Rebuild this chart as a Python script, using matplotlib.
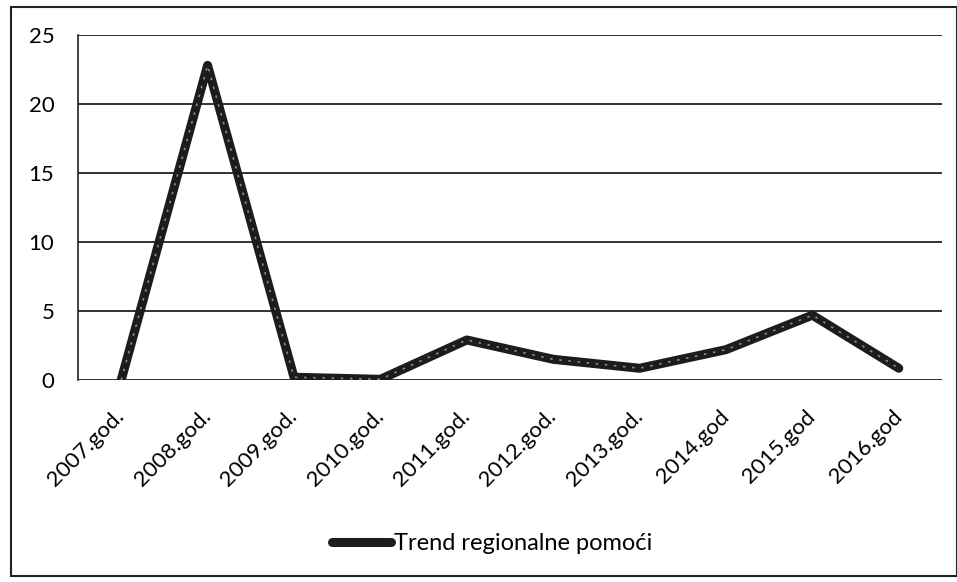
import matplotlib
matplotlib.use('Agg')
from matplotlib import pyplot as plt
from matplotlib.patches import Rectangle

# Data
years = ['2007.god.', '2008.god.', '2009.god.', '2010.god.', '2011.god.',
         '2012.god.', '2013.god.', '2014.god', '2015.god', '2016.god']
values = [0.0, 22.8, 0.2, 0.05, 2.9, 1.5, 0.85, 2.2, 4.7, 0.85]
y_ticks = [0, 5, 10, 15, 20, 25]
series_name = 'Trend regionalne pomoći'

plt.rcParams['font.family'] = ['Lato', 'DejaVu Sans']

fig = plt.figure(figsize=(9.57, 5.82), dpi=100)
ax = fig.add_axes([78 / 957, 1 - 380 / 582, (942 - 78) / 957, (380 - 35) / 582])

x = list(range(len(years)))
ax.plot(x, values, color='#1c1c1c', lw=6.5, solid_joinstyle='round',
        solid_capstyle='round', label=series_name, zorder=3)
# lighter speckle inside the thick line, like the scanned original
ax.plot(x, values, color='#8a8a8a', lw=1.2, ls=(0, (1.5, 4)), zorder=4)

ax.set_xlim(-0.5, len(years) - 0.5)
ax.set_ylim(0, 25)
ax.set_yticks(y_ticks)
ax.set_xticks(x)
ax.set_xticklabels(years, rotation=45, ha='right', va='center',
                   rotation_mode='anchor', fontsize=16)
ax.tick_params(axis='y', length=0, pad=17, labelsize=16)
ax.tick_params(axis='x', length=0, pad=24)

for t in y_ticks:
    ax.axhline(t, color='#222222', lw=1.3, zorder=1)

for side in ['top', 'right', 'bottom']:
    ax.spines[side].set_visible(False)
ax.spines['left'].set_color('#222222')
ax.spines['left'].set_linewidth(1.2)

# legend below the axis
leg = fig.legend(loc='center', bbox_to_anchor=(492 / 957, 1 - 544 / 582),
                 frameon=False, fontsize=17, handlelength=2.5,
                 handletextpad=0.1)

# outer border of the chart
fig.patches.append(Rectangle((11 / 957, 1 - 576 / 582), (957 - 11) / 957, (576 - 7) / 582,
                             transform=fig.transFigure, fill=False,
                             edgecolor='#222222', lw=1.5))

fig.savefig('out.png', dpi=100)
